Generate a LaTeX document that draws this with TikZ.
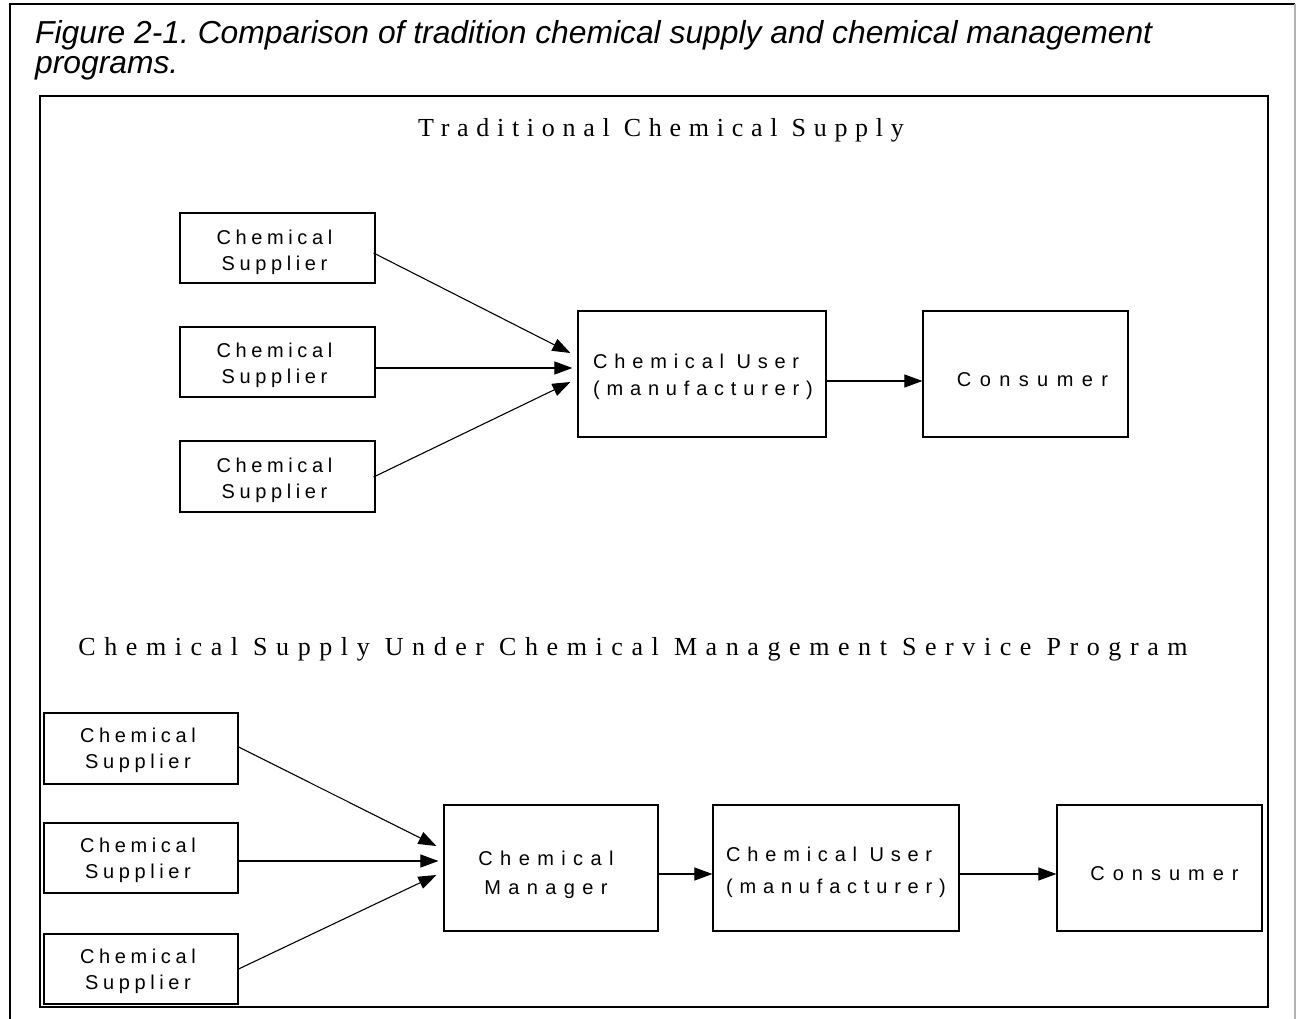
\documentclass[tikz,border=0pt]{standalone}
\usepackage{fontspec}
\newfontfamily\arialfont{Liberation Sans}
\newfontfamily\timesfont{Liberation Serif}
\usetikzlibrary{arrows.meta,calc}
\frenchspacing

\begin{document}
\begin{tikzpicture}[x=1pt,y=-1pt,
  box/.style={draw=black, line width=1.2pt, rectangle, inner sep=0pt},
  flow/.style={draw=black, line width=1.1pt, -{Triangle[length=18pt,width=13pt]}},
  lbl/.style 2 args={font=\arialfont\fontsize{20}{#2}\selectfont\addfontfeature{LetterSpace=#1},
    align=center, inner sep=0pt},
  head/.style={font=\timesfont\fontsize{26}{30}\selectfont\addfontfeature{LetterSpace=#1},
    inner sep=0pt},
  title/.style={font=\arialfont\itshape\fontsize{31.8}{32}\selectfont, inner sep=0pt}]

\useasboundingbox (0,0) rectangle (1296,1019);
\fill[white] (0,0) rectangle (1296,1019);

% page frame and figure frame
\draw[line width=2pt] (10,1030) -- (10,4) -- (1295,4);
\draw[line width=1.2pt, gray!60] (1295,4) -- (1295,1030);
\draw[line width=2.6pt] (40,96) rectangle (1268,1007);

% caption
\node[title, anchor=base west] (cap1) at (35,44)
  {Figure 2-1. Comparison of tradition chemical supply and chemical management};
\node[title, anchor=base west] (cap2) at (35,74) {programs.};

% ---------------- traditional supply ----------------
\node[head=29.6, anchor=base] (head1) at (661,137) {Traditional Chemical Supply};

\node[box, minimum width=195pt, minimum height=70pt] (s1) at (277.5,248) {};
\node[box, minimum width=195pt, minimum height=70pt] (s2) at (277.5,362) {};
\node[box, minimum width=195pt, minimum height=71pt] (s3) at (277.5,476.5) {};
\node[box, minimum width=248pt, minimum height=126pt] (user1) at (702,374) {};
\node[box, minimum width=205pt, minimum height=126pt] (cons1) at (1025.5,374) {};

\node[lbl={23}{26}] (s1t) at ($(s1.center)+(-3,4)$) {Chemical\\Supplier};
\node[lbl={23}{26}] (s2t) at ($(s2.center)+(-3,3)$) {Chemical\\Supplier};
\node[lbl={23}{26}] (s3t) at ($(s3.center)+(-3,4)$) {Chemical\\Supplier};
\node[lbl={34}{27}, align=left] (user1t) at ($(user1.center)+(1,3)$) {Chemical User\\(manufacturer)};
\node[lbl={42}{26}] (cons1t) at ($(cons1.center)+(7,6)$) {Consumer};

\draw[flow] ($(s1.east)+(-2,5)$) -- ($(user1.west)+(-7,-21)$);
\draw[flow] ($(s2.east)+(-2,6)$) -- ($(user1.west)+(-5,-6)$);
\draw[flow] ($(s3.east)+(-2,0.5)$) -- ($(user1.west)+(-7,8)$);
\draw[flow] ($(user1.east)+(0,7)$) -- ($(cons1.west)+(0,7)$);

% ---------------- managed supply ----------------
\node[head=33, anchor=base] (head2) at (633,655)
  {Chemical Supply Under Chemical Management Service Program};

\node[box, minimum width=194pt, minimum height=71pt] (b1) at (141,748.5) {};
\node[box, minimum width=194pt, minimum height=70pt] (b2) at (141,858) {};
\node[box, minimum width=194pt, minimum height=70pt] (b3) at (141,969) {};
\node[box, minimum width=214pt, minimum height=126pt] (mgr) at (551,868) {};
\node[box, minimum width=246pt, minimum height=126pt] (user2) at (836,868) {};
\node[box, minimum width=205pt, minimum height=126pt] (cons2) at (1159.5,868) {};

\node[lbl={23}{26}] (b1t) at ($(b1.center)+(-3,2)$) {Chemical\\Supplier};
\node[lbl={23}{26}] (b2t) at ($(b2.center)+(-3,2)$) {Chemical\\Supplier};
\node[lbl={23}{26}] (b3t) at ($(b3.center)+(-3,2)$) {Chemical\\Supplier};
\node[lbl={37}{29}] (mgrt) at ($(mgr.center)+(-5,7)$) {Chemical\\Manager};
\node[lbl={34}{32}, align=left] (user2t) at ($(user2.center)+(0,4)$) {Chemical User\\(manufacturer)};
\node[lbl={40}{26}] (cons2t) at ($(cons2.center)+(5,6)$) {Consumer};

\draw[flow] ($(b1.east)+(0,-1.5)$) -- ($(mgr.west)+(-7,-22)$);
\draw[flow] ($(b2.east)+(0,3)$) -- ($(mgr.west)+(-5,-7)$);
\draw[flow] ($(b3.east)+(0,0)$) -- ($(mgr.west)+(-7,7)$);
\draw[flow] ($(mgr.east)+(0,6)$) -- ($(user2.west)+(0,6)$);
\draw[flow] ($(user2.east)+(0,6)$) -- ($(cons2.west)+(0,6)$);

\end{tikzpicture}
\end{document}
